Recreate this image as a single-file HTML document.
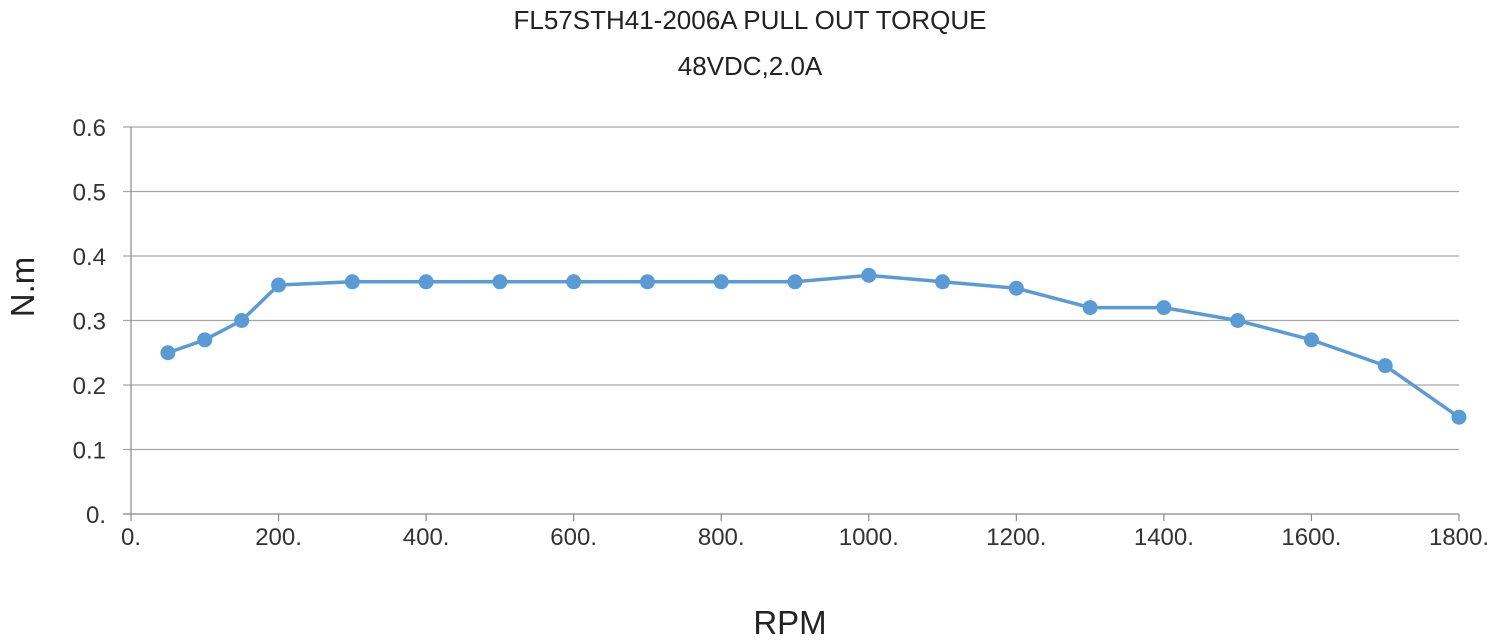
<!DOCTYPE html>
<html><head><meta charset="utf-8"><style>
html,body{margin:0;padding:0;background:#fff;}
svg{display:block;font-family:"Liberation Sans",sans-serif;}
</style></head><body>
<svg id="chart" width="1500" height="643" viewBox="0 0 1500 643">
<text x="750" y="29" text-anchor="middle" font-size="26" fill="#222">FL57STH41-2006A PULL OUT TORQUE</text>
<text x="750" y="75" text-anchor="middle" font-size="26" fill="#222">48VDC,2.0A</text>
<text transform="translate(34,287) rotate(-90)" text-anchor="middle" font-size="33" fill="#222">N.m</text>
<text x="790" y="634" text-anchor="middle" font-size="33" fill="#222">RPM</text>
<g id="grid"></g><g id="axes"></g><g id="series"></g>
</svg>
<script>
const rpm=[50,100,150,200,300,400,500,600,700,800,900,1000,1100,1200,1300,1400,1500,1600,1700,1800];
const torque=[0.25,0.27,0.30,0.355,0.36,0.36,0.36,0.36,0.36,0.36,0.36,0.37,0.36,0.35,0.32,0.32,0.30,0.27,0.23,0.15];
const yTicks=[0,0.1,0.2,0.3,0.4,0.5,0.6];
const yTickLabels=["0.","0.1","0.2","0.3","0.4","0.5","0.6"];
const xTicks=[0,200,400,600,800,1000,1200,1400,1600,1800];
const xTickLabels=["0.","200.","400.","600.","800.","1000.","1200.","1400.","1600.","1800."];
const NS="http://www.w3.org/2000/svg";
const X0=131,X1=1459,Y0=514,Y1=127;
const sx=v=>X0+(v-0)/(1800-0)*(X1-X0);
const sy=v=>Y0-(v-0)/(0.6-0)*(Y0-Y1);
function mk(tag,attrs,parent){const e=document.createElementNS(NS,tag);for(const k in attrs)e.setAttribute(k,attrs[k]);document.getElementById(parent).appendChild(e);return e;}
yTicks.forEach((t,i)=>{
 const l=mk('line',{x1:123,x2:X1,y1:sy(t),y2:sy(t),stroke:i===0?'#888':'#a6a6a6','stroke-width':1.2},'grid');
 
 
 const tx=mk('text',{x:106,y:sy(t)+9,'text-anchor':'end','font-size':24,fill:'#333'},'axes');
 tx.textContent=yTickLabels[i];
 
 
});
const yl=mk('line',{x1:X0,x2:X0,y1:Y1,y2:Y0,stroke:'#888','stroke-width':1.2},'axes');


xTicks.forEach((t,i)=>{
 const l=mk('line',{x1:sx(t),x2:sx(t),y1:Y0,y2:Y0+7,stroke:'#888','stroke-width':1.2},'axes');
 
 
 const tx=mk('text',{x:sx(t),y:Y0+31,'text-anchor':'middle','font-size':24,fill:'#333'},'axes');
 tx.textContent=xTickLabels[i];
 
 
});
const pts=rpm.map((r,i)=>sx(r)+','+sy(torque[i])).join(' ');
const pl=mk('polyline',{points:pts,fill:'none',stroke:'#5b9bd5','stroke-width':3.5,'stroke-linejoin':'round'},'series');


rpm.forEach((r,i)=>{
 const c=mk('circle',{cx:sx(r),cy:sy(torque[i]),r:7.5,fill:'#5b9bd5'},'series');
 
 
});
</script>
</body></html>
